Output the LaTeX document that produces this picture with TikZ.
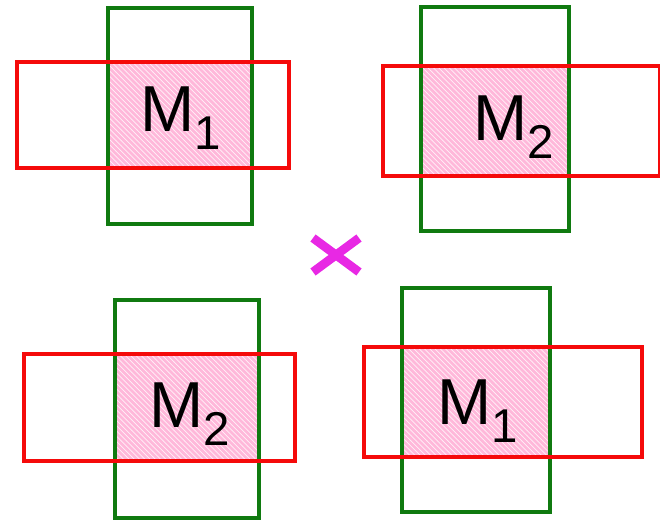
\documentclass[tikz,border=0pt]{standalone}
\usepackage{fontspec}
\setmainfont{Liberation Sans}
\usetikzlibrary{patterns}
\definecolor{rowc}{RGB}{245,10,10}
\definecolor{colc}{RGB}{16,122,16}
\definecolor{overlap}{RGB}{255,184,218}
\definecolor{crossc}{RGB}{232,40,228}
\newcommand{\mtag}[1]{M\raisebox{-0.27em}{\fontsize{27}{30}\selectfont #1}}

\begin{document}
\begin{tikzpicture}[
  x=0.02cm, y=-0.02cm,
  colbox/.style={draw=colc, line width=2.1pt},
  rowbox/.style={draw=rowc, line width=2.1pt},
  cell/.style={fill=overlap},
  hatch/.style={pattern=north west lines, pattern color=white!80!overlap},
  mlab/.style={font=\fontsize{37}{40}\selectfont, inner sep=0pt},
  timesmark/.style={crossc, line width=5pt},
]
\useasboundingbox (0,0) rectangle (660,520);

% top left
\fill[cell] (108,62) rectangle (252,168);
\fill[hatch] (108,62) rectangle (252,168);
\draw[colbox] (108,8) rectangle (252,224);
\draw[rowbox] (17,62) rectangle (289,168);
\node[mlab] (tl) at (181,118) {\mtag{1}};

% top right
\fill[cell] (421,66) rectangle (569,176);
\fill[hatch] (421,66) rectangle (569,176);
\draw[colbox] (421,7) rectangle (569,231);
\draw[rowbox] (383,66) rectangle (660,176);
\node[mlab] (tr) at (514,127) {\mtag{2}};

% bottom left
\fill[cell] (115,354) rectangle (259,461);
\fill[hatch] (115,354) rectangle (259,461);
\draw[colbox] (115,300) rectangle (259,518);
\draw[rowbox] (24,354) rectangle (295,461);
\node[mlab] (bl) at (190,414) {\mtag{2}};

% bottom right
\fill[cell] (402,347) rectangle (550,457);
\fill[hatch] (402,347) rectangle (550,457);
\draw[colbox] (402,288) rectangle (550,512);
\draw[rowbox] (364,347) rectangle (642,457);
\node[mlab] (br) at (478,411) {\mtag{1}};

% times sign
\coordinate (x1) at (313,238);
\coordinate (x2) at (359,272);
\coordinate (x3) at (313,272);
\coordinate (x4) at (359,238);
\draw[timesmark] (x1) -- (x2);
\draw[timesmark] (x3) -- (x4);
\end{tikzpicture}
\end{document}
